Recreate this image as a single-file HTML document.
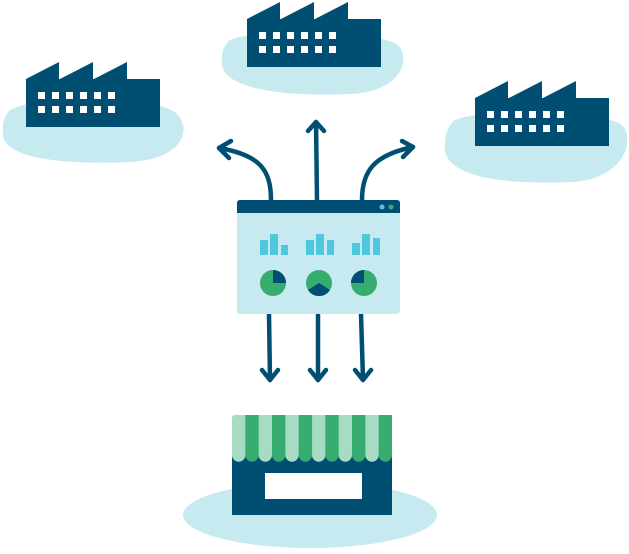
<!DOCTYPE html>
<html><head><meta charset="utf-8"><style>html,body{margin:0;padding:0;background:#fff}</style></head><body>
<svg width="629" height="549" viewBox="0 0 629 549" xmlns="http://www.w3.org/2000/svg">
<defs>
<g id="fac">
<path d="M0 17 L33 0 L33 17 L34 17 L67 0 L67 17 L68 17 L101 0 L101 17 L134 17 L134 65 L0 65 Z" fill="#004f73"/>
<g fill="#fff">
<rect x="12" y="30" width="7" height="7"/><rect x="26" y="30" width="7" height="7"/><rect x="40" y="30" width="7" height="7"/><rect x="54" y="30" width="7" height="7"/><rect x="68" y="30" width="7" height="7"/><rect x="82" y="30" width="7" height="7"/>
<rect x="12" y="44" width="7" height="7"/><rect x="26" y="44" width="7" height="7"/><rect x="40" y="44" width="7" height="7"/><rect x="54" y="44" width="7" height="7"/><rect x="68" y="44" width="7" height="7"/><rect x="82" y="44" width="7" height="7"/>
</g>
</g>
</defs>
<g fill="#c6eaf0">
<path d="M10 110 C40 95 140 92 175 112 C195 130 180 160 130 162 C60 165 5 158 3 135 C2 122 5 115 10 110Z"/>
<path d="M230 40 C260 28 370 28 398 45 C412 60 400 92 350 94 C280 97 225 88 222 65 C221 52 224 45 230 40Z"/>
<path d="M455 120 C485 108 595 108 622 125 C636 140 624 180 570 182 C500 185 448 176 445 150 C444 135 448 125 455 120Z"/>
<ellipse cx="310" cy="515" rx="127" ry="33"/>
</g>
<use href="#fac" x="26" y="62"/>
<use href="#fac" x="247" y="2"/>
<use href="#fac" x="475" y="81"/>
<g stroke="#004f73" stroke-width="4.5" fill="none" stroke-linecap="round" stroke-linejoin="round">
<path d="M271 200 C271 170 260 155 219 148"/><path d="M231 141 L219 148 L229 158"/>
<path d="M317 200 L316 122"/><path d="M308 131 L316 122 L324 131"/>
<path d="M362 200 C362 170 375 155 413 147"/><path d="M402 141 L413 147 L403 157"/>
<path d="M269 314 L270 380"/><path d="M262 370 L270 380 L278 370"/>
<path d="M318 314 L318 380"/><path d="M310 370 L318 380 L326 370"/>
<path d="M361 314 L363 380"/><path d="M355 370 L363 380 L371 370"/>
</g>
<rect x="237" y="200" width="163" height="114" rx="3" fill="#c6eaf0"/>
<path d="M240 200 H397 Q400 200 400 203 V213 H237 V203 Q237 200 240 200Z" fill="#004f73"/>
<circle cx="382" cy="207" r="2.5" fill="#4fc8df"/><circle cx="391" cy="207" r="2.5" fill="#36ac6e"/>
<g fill="#4fc8df">
<rect x="260" y="240" width="8" height="15"/><rect x="270" y="234" width="8" height="21"/><rect x="281" y="245" width="7" height="10"/>
<rect x="306" y="240" width="8" height="15"/><rect x="316" y="234" width="8" height="21"/><rect x="327" y="240" width="7" height="15"/>
<rect x="352" y="243" width="8" height="12"/><rect x="362" y="234" width="8" height="21"/><rect x="373" y="238" width="7" height="17"/>
</g>
<circle cx="273" cy="283" r="13" fill="#36ac6e"/><path d="M273 283 V270 A13 13 0 0 1 286 283Z" fill="#004f73"/>
<circle cx="319" cy="283" r="13" fill="#36ac6e"/><path d="M319 283 L308 290 A13 13 0 0 0 330 290Z" fill="#004f73"/>
<circle cx="364" cy="283" r="13" fill="#36ac6e"/><path d="M364 283 H351 A13 13 0 0 1 364 270Z" fill="#004f73"/>
<rect x="232" y="455" width="160" height="60" fill="#004f73"/>
<rect x="265" y="473" width="97" height="26" fill="#fff"/>
<g>
<rect x="232" y="415" width="160" height="40" rx="3" fill="#a8dbc4"/>
<g fill="#a8dbc4">
<circle cx="238.7" cy="455" r="6.7"/><circle cx="265.3" cy="455" r="6.7"/><circle cx="292" cy="455" r="6.7"/><circle cx="318.7" cy="455" r="6.7"/><circle cx="345.3" cy="455" r="6.7"/><circle cx="372" cy="455" r="6.7"/>
</g>
<g fill="#36ac6e">
<rect x="245.3" y="415" width="13.4" height="40"/><rect x="272" y="415" width="13.4" height="40"/><rect x="298.7" y="415" width="13.4" height="40"/><rect x="325.3" y="415" width="13.4" height="40"/><rect x="352" y="415" width="13.4" height="40"/><rect x="378.7" y="415" width="13.3" height="40"/>
<circle cx="252" cy="455" r="6.7"/><circle cx="278.7" cy="455" r="6.7"/><circle cx="305.3" cy="455" r="6.7"/><circle cx="332" cy="455" r="6.7"/><circle cx="358.7" cy="455" r="6.7"/><circle cx="385.3" cy="455" r="6.7"/>
</g>
</g>
</svg>
</body></html>
